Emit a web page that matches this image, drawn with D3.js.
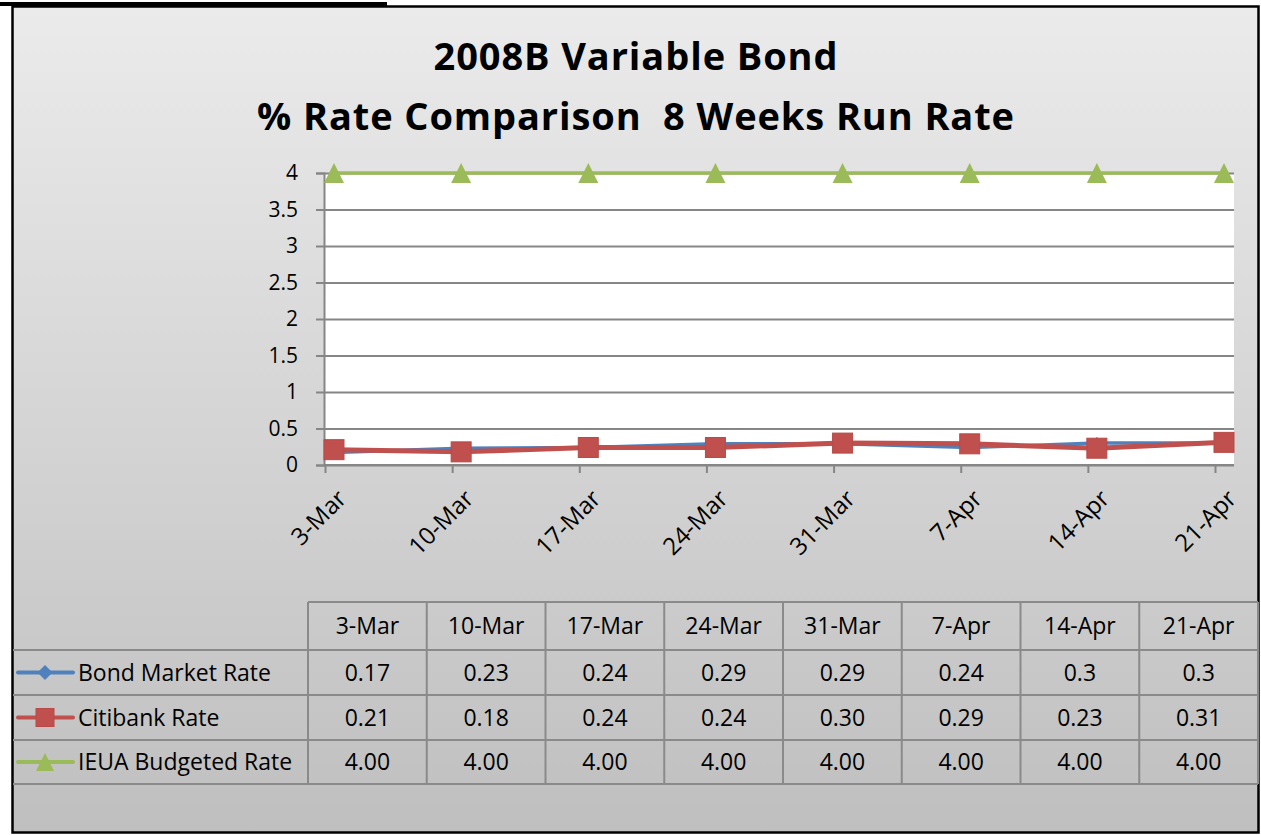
<!DOCTYPE html>
<html>
<head>
<meta charset="utf-8">
<script src="https://cdn.jsdelivr.net/npm/d3@7"></script>
<style>
  body { margin: 0; background: #fff; }
  text { font-family: "Open Sans", Lato, sans-serif; fill: #000; }
</style>
</head>
<body>
<div id="chart"></div>
<script>
const W = 1261, H = 835;

const weeks = ["3-Mar", "10-Mar", "17-Mar", "24-Mar", "31-Mar", "7-Apr", "14-Apr", "21-Apr"];
const bondRate = [0.17, 0.23, 0.24, 0.29, 0.29, 0.24, 0.3, 0.3];
const citiRate = [0.21, 0.18, 0.24, 0.24, 0.30, 0.29, 0.23, 0.31];
const ieuaRate = [4, 4, 4, 4, 4, 4, 4, 4];
const yTicks = [0, 0.5, 1, 1.5, 2, 2.5, 3, 3.5, 4];
const titleLines = ["2008B Variable Bond", "% Rate Comparison  8 Weeks Run Rate"];

const series = [
  {name: "Bond Market Rate", values: bondRate, color: "#4f81bd", width: 3.5, marker: "diamond", fmt: d3.format("")},
  {name: "Citibank Rate", values: citiRate, color: "#c0504d", width: 5, marker: "square", fmt: d3.format(".2f")},
  {name: "IEUA Budgeted Rate", values: ieuaRate, color: "#9bbb59", width: 3.5, marker: "triangle", fmt: d3.format(".2f")}
];

const plot = {left: 324, right: 1234, top: 173, bottom: 465};

const svg = d3.select("#chart").append("svg")
  .attr("width", W).attr("height", H);

// background gradient
const grad = svg.append("defs").append("linearGradient")
  .attr("id", "bg").attr("x1", 0).attr("y1", 0).attr("x2", 0).attr("y2", 1);
grad.append("stop").attr("offset", "0%").attr("stop-color", "#ebebeb");
grad.append("stop").attr("offset", "100%").attr("stop-color", "#bfbfbf");

svg.append("rect").attr("x", 0).attr("y", 2).attr("width", 387).attr("height", 4).attr("fill", "#000");
svg.append("rect")
  .attr("x", 12.5).attr("y", 6.5).attr("width", 1246).attr("height", 826)
  .attr("fill", "url(#bg)").attr("stroke", "#000").attr("stroke-width", 2.5);

// title (keep the double space)
svg.append("g").selectAll("text")
  .data(titleLines)
  .join("text")
    .attr("x", 636).attr("y", (d, i) => 70 + i * 60)
    .attr("text-anchor", "middle")
    .style("white-space", "pre")
    .style("font-size", "38px").style("font-weight", "bold")
    .style("letter-spacing", "0.9px")
    .text(d => d);

// scales
const x = d3.scalePoint().domain(weeks).range([334, 1224]);
const y = d3.scaleLinear().domain([0, 4]).range([plot.bottom, plot.top]);

svg.append("rect")
  .attr("x", plot.left).attr("y", plot.top)
  .attr("width", plot.right - plot.left).attr("height", plot.bottom - plot.top)
  .attr("fill", "#fff");

// y axis with gridlines
const yAxis = svg.append("g")
  .attr("transform", `translate(${plot.left},0)`)
  .call(d3.axisLeft(y).tickValues(yTicks).tickSize(8).tickPadding(18).tickFormat(d3.format("")));
yAxis.select(".domain").attr("stroke", "#868686").attr("stroke-width", 2);
yAxis.selectAll(".tick line").attr("stroke", "#868686").attr("stroke-width", 2);
yAxis.selectAll(".tick text").style("font-size", "21px").attr("font-family", null);
yAxis.selectAll(".tick").append("line")
  .attr("x1", 0).attr("x2", plot.right - plot.left)
  .attr("stroke", "#868686").attr("stroke-width", 2);

// x axis: ticks sit a little left of the points, like the original
const xAxis = svg.append("g")
  .attr("transform", `translate(-9,${plot.bottom})`)
  .call(d3.axisBottom(x).tickSize(8).tickFormat(""));
xAxis.select(".domain").remove();
xAxis.selectAll(".tick line").attr("stroke", "#868686").attr("stroke-width", 2);
svg.append("line")
  .attr("x1", plot.left).attr("x2", plot.right)
  .attr("y1", plot.bottom).attr("y2", plot.bottom)
  .attr("stroke", "#868686").attr("stroke-width", 2);

svg.append("g").selectAll("text")
  .data(weeks)
  .join("text")
    .attr("transform", d => `translate(${x(d) + 14},${plot.bottom + 35}) rotate(-45)`)
    .attr("text-anchor", "end")
    .style("font-size", "24px")
    .text(d => d);

// markers
function drawMarker(g, type, color, s) {
  if (type === "diamond") {
    g.append("path").attr("d", `M0,${-s/2}L${s/2},0L0,${s/2}L${-s/2},0Z`).attr("fill", color);
  } else if (type === "square") {
    g.append("rect").attr("x", -s/2).attr("y", -s/2).attr("width", s).attr("height", s)
      .attr("fill", color).attr("stroke", "#b84a47").attr("stroke-width", 1);
  } else {
    g.append("path").attr("d", `M0,${-s/2}L${s/2},${s/2}L${-s/2},${s/2}Z`).attr("fill", color);
  }
}
const markerSize = {diamond: 12, square: 20, triangle: 20};

const line = d3.line().x((d, i) => x(weeks[i])).y(d => y(d));

series.forEach(s => {
  svg.append("path")
    .datum(s.values)
    .attr("fill", "none")
    .attr("stroke", s.color)
    .attr("stroke-width", s.width)
    .attr("stroke-linejoin", "round")
    .attr("d", line);
  s.values.forEach((v, i) => {
    const g = svg.append("g").attr("transform", `translate(${x(weeks[i])},${y(v)})`);
    drawMarker(g, s.marker, s.color, markerSize[s.marker]);
  });
});

// data table
const tbl = {left: 13, keyRight: 308, right: 1258, rows: [602, 650, 695, 740, 784]};
const colW = (tbl.right - tbl.keyRight) / weeks.length;
const tg = svg.append("g");
const gridColor = "#8a8a8a";

tg.append("line").attr("x1", tbl.keyRight).attr("x2", tbl.right)
  .attr("y1", tbl.rows[0]).attr("y2", tbl.rows[0]).attr("stroke", gridColor).attr("stroke-width", 2);
tbl.rows.slice(1).forEach(r => {
  tg.append("line").attr("x1", tbl.left).attr("x2", tbl.right)
    .attr("y1", r).attr("y2", r).attr("stroke", gridColor).attr("stroke-width", 2);
});
d3.range(weeks.length + 1).forEach(i => {
  tg.append("line")
    .attr("x1", tbl.keyRight + i * colW).attr("x2", tbl.keyRight + i * colW)
    .attr("y1", tbl.rows[0]).attr("y2", tbl.rows[4])
    .attr("stroke", gridColor).attr("stroke-width", 2);
});

const rowMid = i => (tbl.rows[i] + tbl.rows[i + 1]) / 2;

tg.selectAll(".hdr")
  .data(weeks)
  .join("text")
    .attr("class", "hdr")
    .attr("x", (d, i) => tbl.keyRight + (i + 0.5) * colW)
    .attr("y", rowMid(0) + 8)
    .attr("text-anchor", "middle")
    .style("font-size", "23px")
    .text(d => d);

series.forEach((s, r) => {
  const cy = rowMid(r + 1);
  tg.append("line").attr("x1", 18).attr("x2", 73).attr("y1", cy).attr("y2", cy)
    .attr("stroke", s.color).attr("stroke-width", 4).attr("stroke-linecap", "round");
  const g = tg.append("g").attr("transform", `translate(45,${cy})`);
  drawMarker(g, s.marker, s.color, s.marker === "diamond" ? 15 : 18);
  tg.append("text").attr("x", 78).attr("y", cy + 8)
    .style("font-size", "23px").text(s.name);
  tg.selectAll(null)
    .data(s.values)
    .join("text")
      .attr("x", (d, i) => tbl.keyRight + (i + 0.5) * colW)
      .attr("y", cy + 8)
      .attr("text-anchor", "middle")
      .style("font-size", "23px")
      .text(d => s.fmt(d));
});
</script>
</body>
</html>
